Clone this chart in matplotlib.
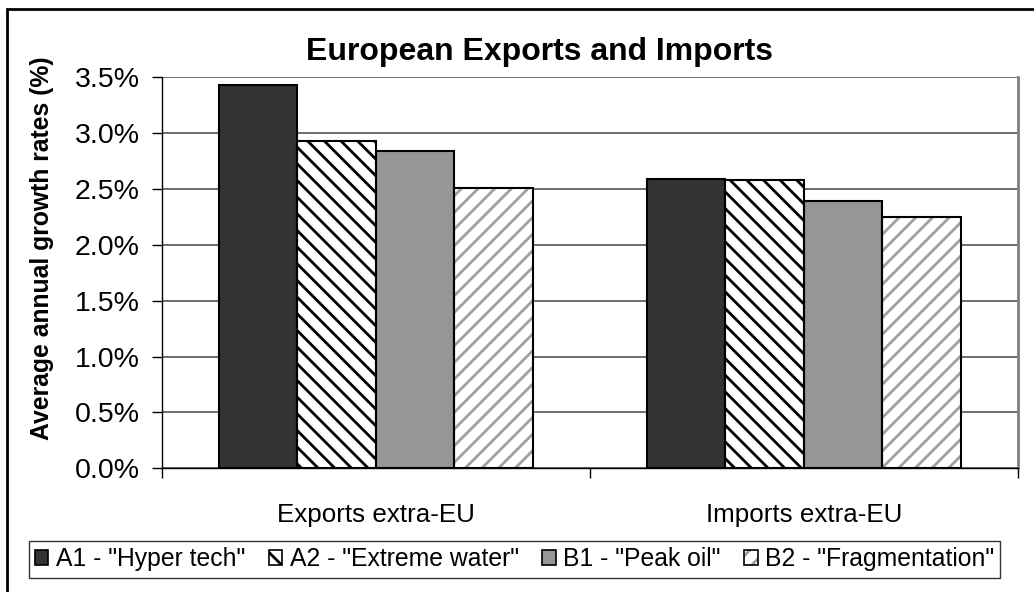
import numpy as np
import matplotlib.pyplot as plt
from matplotlib.patches import Patch, Rectangle
from matplotlib.ticker import FuncFormatter, FixedLocator

plt.rcParams['font.family'] = ['Liberation Sans', 'DejaVu Sans']
plt.rcParams['hatch.linewidth'] = 2.0

# data (average annual growth, %)
categories = ['Exports extra-EU', 'Imports extra-EU']
scenarios = ['A1 - "Hyper tech"', 'A2 - "Extreme water"', 'B1 - "Peak oil"', 'B2 - "Fragmentation"']
a1_hyper_tech = [3.43, 2.59]
a2_extreme_water = [2.93, 2.58]
b1_peak_oil = [2.84, 2.39]
b2_fragmentation = [2.51, 2.25]
yticks = [0.0, 0.5, 1.0, 1.5, 2.0, 2.5, 3.0, 3.5]

series = [a1_hyper_tech, a2_extreme_water, b1_peak_oil, b2_fragmentation]
# (face colour, hatch, hatch colour) for each scenario
styles = [('#333333', '', '#333333'),
          ('white', '\\\\', 'black'),
          ('#969696', '', '#969696'),
          ('white', '//', '#a0a0a0')]

fig = plt.figure(figsize=(10.34, 5.92), dpi=100)
ax = fig.add_axes([0.1564, 0.2090, 0.8281, 0.6601])

x = np.arange(len(categories))
w = 0.1833
handles = []
for i, (vals, (fc, hatch, hc)) in enumerate(zip(series, styles)):
    pos = x + (i - 1.5) * w
    ax.bar(pos, vals, w, color=fc, edgecolor=hc, hatch=hatch, linewidth=0, zorder=3)
    ax.bar(pos, vals, w, fill=False, edgecolor='black', linewidth=1.5, zorder=4)
    handles.append((Patch(facecolor=fc, edgecolor=hc, hatch=hatch, linewidth=0),
                    Patch(fill=False, edgecolor='black', linewidth=1.2)))

ax.set_xlim(-0.5, 1.5)
ax.set_ylim(0, 3.5)
ax.set_yticks(yticks)
ax.yaxis.set_major_formatter(FuncFormatter(lambda v, p: '{:.1f}%'.format(v)))
ax.grid(axis='y', color='#555555', linewidth=1.2, zorder=0)
ax.set_axisbelow(True)

ax.set_xticks(x)
ax.set_xticklabels(categories, fontsize=18.7)
ax.xaxis.set_minor_locator(FixedLocator([-0.5, 0.5, 1.5]))
ax.tick_params(axis='x', which='major', length=0, pad=25)
ax.tick_params(axis='x', which='minor', length=7, width=1, direction='out')
ax.tick_params(axis='y', labelsize=20.5, length=7, width=1, pad=9)

for s in ['left', 'bottom']:
    ax.spines[s].set_color('black')
    ax.spines[s].set_linewidth(1)
ax.spines['top'].set_visible(False)
ax.spines['right'].set_color('#808080')
ax.spines['right'].set_linewidth(2)

fig.text(0.522, 0.912, 'European Exports and Imports', fontsize=23,
         fontweight='bold', ha='center', va='center')
fig.text(0.0406, 0.581, 'Average annual growth rates (%)', fontsize=17.8,
         fontweight='bold', rotation=90, ha='center', va='center')

leg = fig.legend(handles, scenarios, loc='center', bbox_to_anchor=(0.4976, 0.0549),
                 ncol=4, fontsize=17.8, frameon=True, fancybox=False,
                 handlelength=0.55, handleheight=0.55, handletextpad=0.3,
                 columnspacing=0.95, borderpad=0.25, borderaxespad=0)
leg.get_frame().set_edgecolor('black')
leg.get_frame().set_linewidth(1)

# outer chart border (cut off on the right and bottom in the original)
fig.patches.append(Rectangle((7 / 1034, -0.1), 1.2, 1.1 - 9 / 592, transform=fig.transFigure,
                             fill=False, edgecolor='black', linewidth=2))

fig.savefig('out.png', dpi=100)
